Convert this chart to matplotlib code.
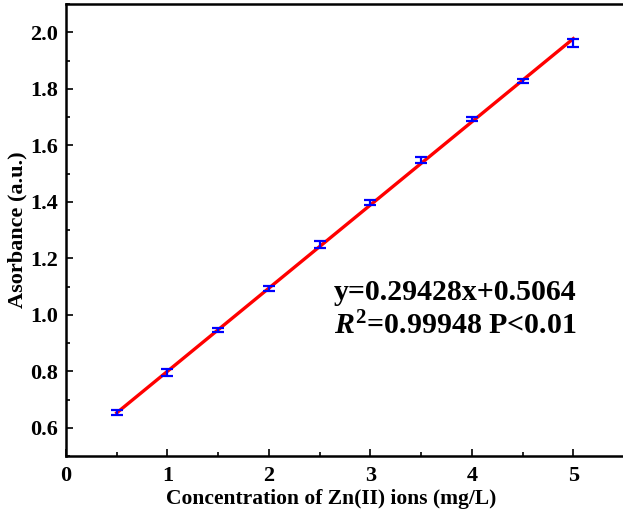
import matplotlib
matplotlib.use("Agg")
import matplotlib.pyplot as plt
from matplotlib.ticker import MultipleLocator, AutoMinorLocator

plt.rcParams["font.family"] = "Liberation Serif"
plt.rcParams["font.weight"] = "bold"
plt.rcParams["mathtext.fontset"] = "custom"
plt.rcParams["mathtext.rm"] = "Liberation Serif:bold"
plt.rcParams["mathtext.it"] = "Liberation Serif:italic:bold"
plt.rcParams["mathtext.bf"] = "Liberation Serif:bold"

# measured standards
conc = [0.5, 1.0, 1.5, 2.0, 2.5, 3.0, 3.5, 4.0, 4.5, 5.0]
absorb = [0.655, 0.795, 0.946, 1.093, 1.250, 1.398, 1.549, 1.694, 1.828, 1.962]
absorb_err = [0.010, 0.012, 0.008, 0.008, 0.012, 0.008, 0.010, 0.008, 0.008, 0.015]

# linear fit y = 0.29428x + 0.5064, drawn between the end standards
fit_x = [0.5, 5.0]
fit_y = [0.6535, 1.9778]

fig = plt.figure(figsize=(6.23, 5.19), dpi=100)
ax = fig.add_axes([0.106, 0.121, 0.894, 0.871])

ax.plot(fit_x, fit_y, color="red", linewidth=2.4, zorder=2)
ax.errorbar(conc, absorb, yerr=absorb_err, fmt="none", ecolor="blue",
            elinewidth=1.6, capsize=4, capthick=1.6, zorder=3)

ax.set_xlim(0, 5.49)
ax.set_ylim(0.5, 2.1)
ax.xaxis.set_major_locator(MultipleLocator(1))
ax.xaxis.set_minor_locator(AutoMinorLocator(2))
ax.yaxis.set_major_locator(MultipleLocator(0.2))
ax.yaxis.set_minor_locator(AutoMinorLocator(2))
ax.tick_params(which="both", direction="in", width=1.2, labelsize=16)
ax.tick_params(which="major", length=5)
ax.tick_params(which="minor", length=3)
ax.tick_params(axis="x", pad=7)
ax.tick_params(axis="y", pad=6)
ax.spines["right"].set_visible(False)
for side in ("left", "bottom", "top"):
    ax.spines[side].set_linewidth(1.8)

ax.set_xlabel("Concentration of Zn(II) ions (mg/L)", fontsize=15.5, fontweight="bold")
ax.xaxis.set_label_coords(0.476, -0.072)
ax.set_ylabel("Asorbance (a.u.)", fontsize=16, fontweight="bold", labelpad=2)

ax.text(2.64, 1.08, "y=0.29428x+0.5064", fontsize=21.5, fontweight="bold",
        ha="left", va="center")
ax.text(2.64, 0.962, r"$\mathit{R}^{\mathrm{2}}$=0.99948 P<0.01", fontsize=21.5,
        fontweight="bold", ha="left", va="center")

fig.savefig("out.png", dpi=100)
